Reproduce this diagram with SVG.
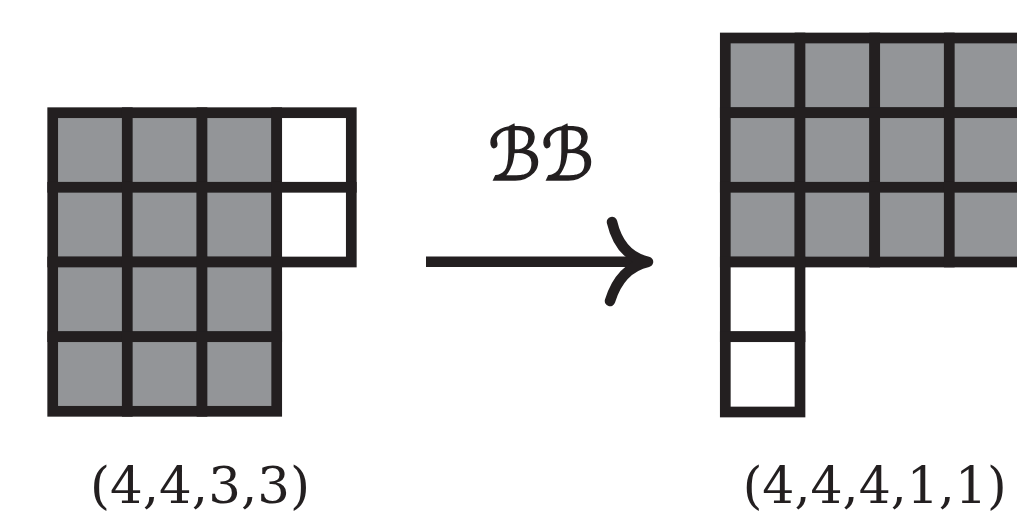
<svg xmlns="http://www.w3.org/2000/svg" width="1017" height="520" viewBox="0 0 1017 520">
<style>
.g{fill:#939598;stroke:#231f20;stroke-width:10.7}
.w{fill:#ffffff;stroke:#231f20;stroke-width:10.7}
.lbl{font-family:"DejaVu Serif","Liberation Serif",serif;font-size:50px;fill:#231f20;text-anchor:middle}
.op{font-family:"DejaVu Serif","DejaVu Sans",serif;font-style:italic;font-size:72px;fill:#231f20;stroke:#231f20;stroke-width:1.6;text-anchor:middle}
</style>
<rect width="1017" height="520" fill="#ffffff"/>
<g id="left-diagram">
<rect class="g" x="52.7" y="112.7" width="74.6" height="74.6"/>
<rect class="g" x="127.3" y="112.7" width="74.7" height="74.6"/>
<rect class="g" x="202" y="112.7" width="74.7" height="74.6"/>
<rect class="w" x="276.7" y="112.7" width="74.6" height="74.6"/>
<rect class="g" x="52.7" y="187.3" width="74.6" height="74.7"/>
<rect class="g" x="127.3" y="187.3" width="74.7" height="74.7"/>
<rect class="g" x="202" y="187.3" width="74.7" height="74.7"/>
<rect class="w" x="276.7" y="187.3" width="74.6" height="74.7"/>
<rect class="g" x="52.7" y="262" width="74.6" height="74.7"/>
<rect class="g" x="127.3" y="262" width="74.7" height="74.7"/>
<rect class="g" x="202" y="262" width="74.7" height="74.7"/>
<rect class="g" x="52.7" y="336.7" width="74.6" height="74.6"/>
<rect class="g" x="127.3" y="336.7" width="74.7" height="74.6"/>
<rect class="g" x="202" y="336.7" width="74.7" height="74.6"/>
</g>
<g id="right-diagram">
<rect class="g" x="725.3" y="38" width="74.7" height="74.7"/>
<rect class="g" x="800" y="38" width="74.7" height="74.7"/>
<rect class="g" x="874.7" y="38" width="74.6" height="74.7"/>
<rect class="g" x="949.3" y="38" width="74.7" height="74.7"/>
<rect class="g" x="725.3" y="112.7" width="74.7" height="74.6"/>
<rect class="g" x="800" y="112.7" width="74.7" height="74.6"/>
<rect class="g" x="874.7" y="112.7" width="74.6" height="74.6"/>
<rect class="g" x="949.3" y="112.7" width="74.7" height="74.6"/>
<rect class="g" x="725.3" y="187.3" width="74.7" height="74.7"/>
<rect class="g" x="800" y="187.3" width="74.7" height="74.7"/>
<rect class="g" x="874.7" y="187.3" width="74.6" height="74.7"/>
<rect class="g" x="949.3" y="187.3" width="74.7" height="74.7"/>
<rect class="w" x="725.3" y="262" width="74.7" height="74.7"/>
<rect class="w" x="725.3" y="336.7" width="74.7" height="75.3"/>
</g>
<g id="connectors">
<g id="arrow" fill="none" stroke="#231f20" stroke-linecap="round">
<line x1="426" y1="261.8" x2="646" y2="261.8" stroke-width="10.5" stroke-linecap="butt"/>
<path d="M612,222 Q620,256 648,261.8 Q620,268 610,301" stroke-width="10.5" stroke-linejoin="round"/>
</g>
<text id="arrow-label" class="op" x="541" y="180" textLength="106" lengthAdjust="spacingAndGlyphs">ℬℬ</text>
</g>
<g id="labels">
<text id="label-left" class="lbl" x="200" y="503" textLength="220" lengthAdjust="spacingAndGlyphs">(4,4,3,3)</text>
<text id="label-right" class="lbl" x="874.7" y="503" textLength="264" lengthAdjust="spacingAndGlyphs">(4,4,4,1,1)</text>
</g>
</svg>
